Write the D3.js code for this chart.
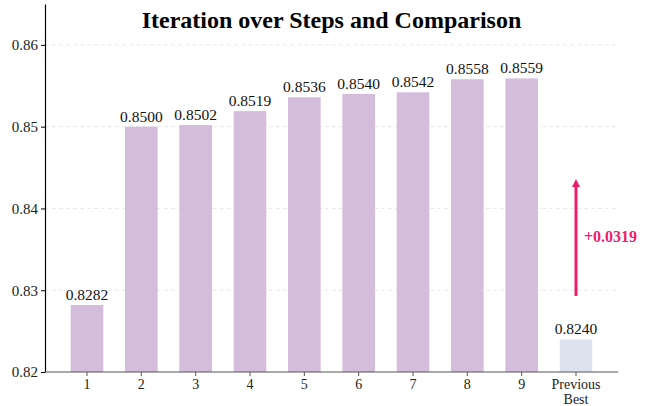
<!DOCTYPE html>
<html>
<head>
<meta charset="utf-8">
<script src="https://cdn.jsdelivr.net/npm/d3@7"></script>
<style>
  body { margin: 0; background: #fff; }
  text { font-family: "Liberation Serif", "Times New Roman", serif; }
</style>
</head>
<body>
<div id="chart"></div>
<script>
// chart data
var steps = ["1", "2", "3", "4", "5", "6", "7", "8", "9"];
var stepScores = [0.8282, 0.8500, 0.8502, 0.8519, 0.8536, 0.8540, 0.8542, 0.8558, 0.8559];
var prevLabel = ["Previous", "Best"];
var prevScore = 0.8240;
var yTicks = [0.82, 0.83, 0.84, 0.85, 0.86];
var gain = "+0.0319";
var arrowFrom = 0.8293, arrowTo = 0.8436;

var svg = d3.select('#chart').append('svg').attr('width', 650).attr('height', 406);

var plotLeft = 45, plotRight = 618, plotTop = 4, plotBottom = 372;

var bars = stepScores.map((v, i) => ({ label: [steps[i]], value: v, prev: false }));
bars.push({ label: prevLabel, value: prevScore, prev: true });

var xScale = d3.scaleLinear()
    .domain([-0.773, bars.length - 1 + 0.773])
    .range([plotLeft, plotRight]);

var yScale = d3.scaleLinear()
    .domain([0.82, 0.865])
    .range([plotBottom, plotTop]);

var barW = xScale(0.6) - xScale(0);

// grid
svg.append('g')
    .selectAll('line')
    .data(yTicks.slice(1))
    .enter()
    .append('line')
    .attr('x1', plotLeft).attr('x2', plotRight)
    .attr('y1', d => yScale(d)).attr('y2', d => yScale(d))
    .attr('stroke', '#e3e3e3')
    .attr('stroke-width', 0.8)
    .attr('stroke-dasharray', '4,3');

// bars
svg.append('g')
    .selectAll('rect')
    .data(bars)
    .enter()
    .append('rect')
    .attr('x', (d, i) => xScale(i) - barW / 2)
    .attr('width', barW)
    .attr('y', d => yScale(d.value))
    .attr('height', d => plotBottom - yScale(d.value))
    .attr('fill', d => d.prev ? '#dce3ee' : '#d4bcdb');

// value labels
svg.append('g')
    .selectAll('text')
    .data(bars)
    .enter()
    .append('text')
    .attr('x', (d, i) => xScale(i))
    .attr('y', d => yScale(d.value) - 5)
    .attr('text-anchor', 'middle')
    .attr('font-size', 15.5)
    .attr('fill', '#111')
    .text(d => d.value.toFixed(4));

// y axis
var yAxis = svg.append('g')
    .attr('transform', `translate(${plotLeft},0)`)
    .call(d3.axisLeft(yScale).tickValues(yTicks).tickFormat(d3.format('.2f')).tickSize(4).tickSizeOuter(0));
yAxis.select('.domain').attr('stroke', '#000').attr('stroke-width', 1.2);
yAxis.selectAll('text').attr('font-size', 15).attr('fill', '#222')
    .style('font-family', '"Liberation Serif", serif');

// x axis
var xAxis = svg.append('g').attr('transform', `translate(0,${plotBottom})`);
xAxis.append('line')
    .attr('x1', plotLeft).attr('x2', plotRight)
    .attr('stroke', '#555').attr('stroke-width', 1.2);
var xt = xAxis.selectAll('g.tick')
    .data(bars)
    .enter()
    .append('g')
    .attr('transform', (d, i) => `translate(${xScale(i)},0)`);
xt.append('line').attr('y2', 4).attr('stroke', '#555');
xt.append('text')
    .attr('text-anchor', 'middle')
    .attr('font-size', 14)
    .attr('fill', '#222')
    .selectAll('tspan')
    .data(d => d.label)
    .enter()
    .append('tspan')
    .attr('x', 0)
    .attr('y', (d, j) => 17 + j * 15)
    .text(d => d);

// improvement arrow
var ax = xScale(bars.length - 1);
var tipY = yScale(arrowTo);
svg.append('line')
    .attr('x1', ax).attr('x2', ax)
    .attr('y1', yScale(arrowFrom)).attr('y2', tipY + 6)
    .attr('stroke', '#ea1e6a').attr('stroke-width', 3);
svg.append('path')
    .attr('d', `M${ax},${tipY} L${ax - 4},${tipY + 8} L${ax + 4},${tipY + 8} Z`)
    .attr('fill', '#ea1e6a');
svg.append('text')
    .attr('x', ax + 8)
    .attr('y', yScale((arrowFrom + arrowTo) / 2) + 5)
    .attr('font-size', 16)
    .attr('font-weight', 'bold')
    .attr('fill', '#ea1e6a')
    .text(gain);

// title
svg.append('text')
    .attr('x', (plotLeft + plotRight) / 2)
    .attr('y', 28)
    .attr('text-anchor', 'middle')
    .attr('font-size', 24)
    .attr('font-weight', 'bold')
    .attr('fill', '#000')
    .text('Iteration over Steps and Comparison');
</script>
</body>
</html>
